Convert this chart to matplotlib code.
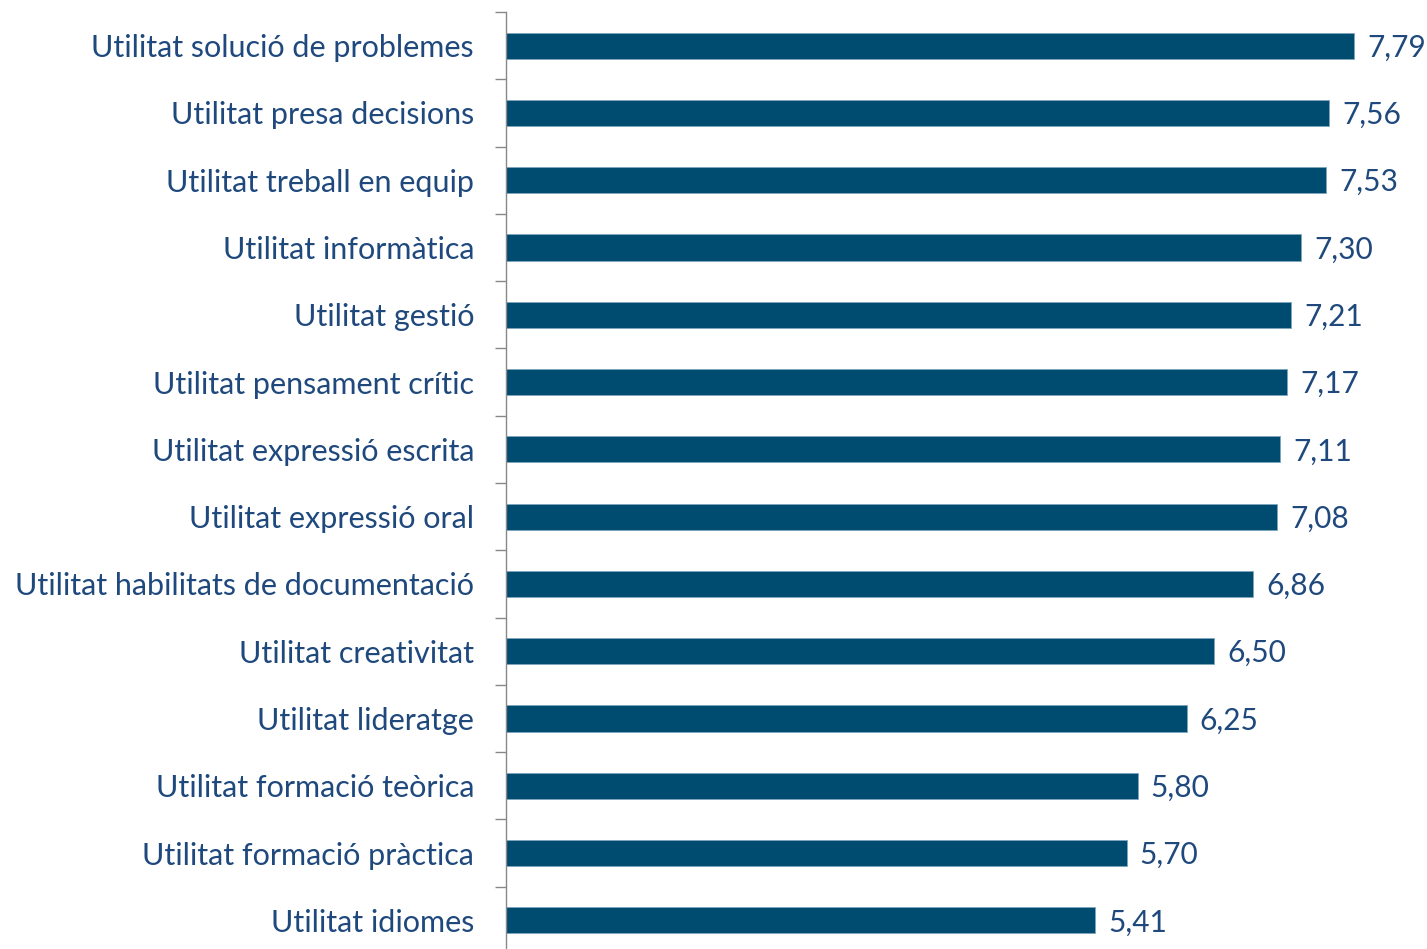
import matplotlib.pyplot as plt

categories = [
    "Utilitat solució de problemes",
    "Utilitat presa decisions",
    "Utilitat treball en equip",
    "Utilitat informàtica",
    "Utilitat gestió",
    "Utilitat pensament crític",
    "Utilitat expressió escrita",
    "Utilitat expressió oral",
    "Utilitat habilitats de documentació",
    "Utilitat creativitat",
    "Utilitat lideratge",
    "Utilitat formació teòrica",
    "Utilitat formació pràctica",
    "Utilitat idiomes",
]
values = [7.79, 7.56, 7.53, 7.30, 7.21, 7.17, 7.11, 7.08, 6.86, 6.50, 6.25, 5.80, 5.70, 5.41]

bar_color = "#004B70"
text_color = "#1F497D"
plt.rcParams['font.family'] = ['Lato', 'DejaVu Sans']

fig = plt.figure(figsize=(14.27, 9.49), dpi=100)
# axes left at x=506px, top at y=12px, bottom slightly below the image
ax = fig.add_axes([506 / 1427, -5 / 949, 1 - 506 / 1427, (949 - 12 + 5) / 949])

n = len(categories)
pos = list(range(n))
ax.barh(pos, values, height=0.39, color=bar_color, edgecolor="#7FA6BD", linewidth=0.6)
ax.set_ylim(n - 0.5, -0.5)
ax.set_xlim(0, 921 / 108.9)

for p, v in zip(pos, values):
    ax.text(v + 0.12, p + 0.03, f"{v:.2f}".replace(".", ","), va="center", ha="left",
            fontsize=21.5, color=text_color)

ax.set_yticks(pos)
ax.set_yticklabels(categories, fontsize=22, color=text_color)
ax.tick_params(axis="y", length=0, pad=23)
# boundary tick marks
ax.set_yticks([p - 0.5 for p in pos] + [n - 0.5], minor=True)
ax.tick_params(axis="y", which="minor", length=8, color="#888888", width=1)
ax.set_xticks([])
for s in ["top", "right", "bottom"]:
    ax.spines[s].set_visible(False)
ax.spines["left"].set_color("#888888")
ax.spines["left"].set_linewidth(1)

fig.savefig("out.png", dpi=100)
